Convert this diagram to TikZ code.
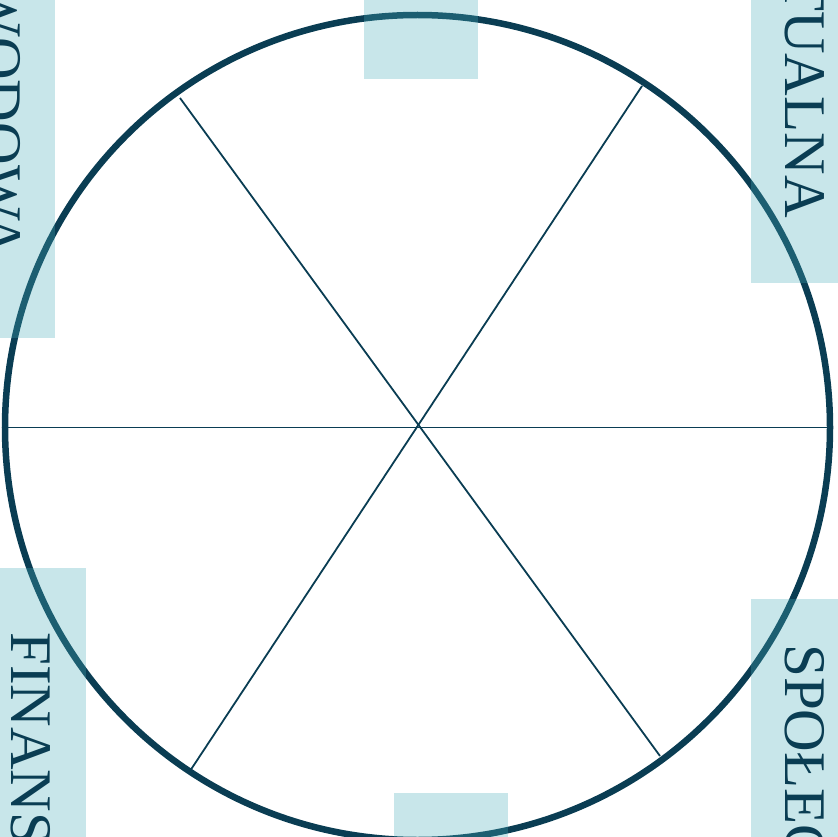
\documentclass[tikz,border=0pt]{standalone}
\usepackage{fontspec}
\setmainfont{Liberation Serif}
\definecolor{ink}{RGB}{10,61,83}
\definecolor{bandc}{RGB}{72,172,185}
\begin{document}
\begin{tikzpicture}[x=1pt,y=-1pt,
  ring/.style={draw=ink,line width=6.5pt},
  spoke/.style={draw=ink,line width=1.8pt},
  band/.style={fill=bandc,fill opacity=0.3,draw=none},
  lbl/.style={text=ink,font=\fontsize{59}{59}\selectfont,rotate=-90,inner sep=0pt}]
\useasboundingbox (0,0) rectangle (838,837);
\coordinate (c) at (417.5,427.5);
\coordinate (w) at (5,427.5);
\coordinate (e) at (830,427.5);
\coordinate (ul) at (180,98);
\coordinate (lr) at (660,756);
\coordinate (ur) at (642,86);
\coordinate (ll) at (190,771);
\draw[spoke] (w) -- (e);
\draw[spoke] (ul) -- (lr);
\draw[spoke] (ur) -- (ll);
\draw[ring] (c) circle[radius=412.5pt];
\path[band] (-40,-10) rectangle (55,338);
\path[band] (364,-10) rectangle (478,79);
\path[band] (751,-10) rectangle (880,283);
\path[band] (-40,568) rectangle (86,850);
\path[band] (751,599) rectangle (880,850);
\path[band] (394,793) rectangle (508,850);
\node[lbl,anchor=base east] (t1) at (-19,257) {WODOWA};
\node[lbl,anchor=base east] (t2) at (785,218) {TUALNA};
\node[lbl,anchor=base west] (t3) at (12,632) {FINANS};
\node[lbl,anchor=base west] (t4) at (785,644) {SPOŁEC};
\end{tikzpicture}
\end{document}
